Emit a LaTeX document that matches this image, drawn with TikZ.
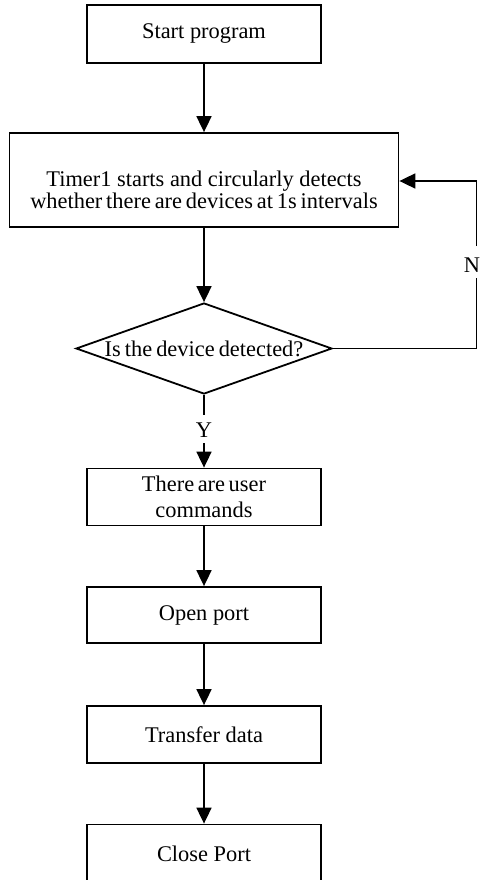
\documentclass[tikz,border=0pt]{standalone}
\usepackage{fontspec}
\setmainfont{Liberation Serif}
\usetikzlibrary{arrows.meta,shapes.geometric}
\begin{document}
\begin{tikzpicture}[x=1pt,y=-1pt,
  box/.style={draw,line width=1.8pt,inner sep=0pt,align=center,
    font=\fontsize{22.4}{22}\selectfont},
  decision/.style={draw,diamond,line width=1.8pt,inner sep=0pt},
  flow/.style={line width=1.8pt,-{Triangle[length=16pt,width=15pt]}},
  link/.style={line width=1.8pt},
  lbl/.style={inner sep=1pt,align=center,font=\fontsize{22.4}{22}\selectfont}]
\useasboundingbox (0,0) rectangle (480,880);

% process steps
\node[box,minimum width=234pt,minimum height=58pt] (start) at (204,34) {Start program};
\node[box,minimum width=389pt,minimum height=94pt] (timer) at (204,180) {};
\node[lbl] (timertext) at (204,189.5)
  {Timer1 starts and circularly detects\\
   {\spaceskip=0.17em\relax whether there are devices at 1s intervals}};
\node[decision,minimum width=256pt,minimum height=91pt] (dec) at (204,348.5) {};
\node[lbl] (dectext) at (dec.center)
  {{\spaceskip=0.18em\relax Is the device detected?}};
\node[box,minimum width=234pt,minimum height=57pt,
  font=\fontsize{22.4}{26.5}\selectfont] (cmd) at (204,497)
  {{\spaceskip=0.16em\relax There are user}\\commands};
\node[box,minimum width=234pt,minimum height=56pt] (open) at (204,615) {Open port};
\node[box,minimum width=234pt,minimum height=57pt] (xfer) at (204,734.5) {Transfer data};
\node[box,minimum width=234pt,minimum height=58pt] (close) at (204,853.5) {Close Port};

% branch labels with the gaps they leave in their lines
\node[lbl] (yes) at (204,430) {Y};
\coordinate (yestop) at (204,415);
\coordinate (yesbot) at (204,443);
\node[lbl] (no) at (472,265) {N};
\coordinate (nolow) at (476.5,278);
\coordinate (nohigh) at (476.5,246);
\coordinate (cornerlow) at (476.5,348.5);
\coordinate (cornerhigh) at (476.5,181);

% connectors
\draw[flow] (start) -- (timer);
\draw[flow] (timer) -- (dec.north);
\draw[link] (dec.south) -- (yestop);
\draw[flow] (yesbot) -- (cmd.north);
\draw[flow] (cmd) -- (open);
\draw[flow] (open) -- (xfer);
\draw[flow] (xfer) -- (close);
\draw[link] (dec.east) -- (cornerlow) -- (nolow);
\draw[flow] (nohigh) -- (cornerhigh) -- (timer.east |- cornerhigh);
\end{tikzpicture}
\end{document}
